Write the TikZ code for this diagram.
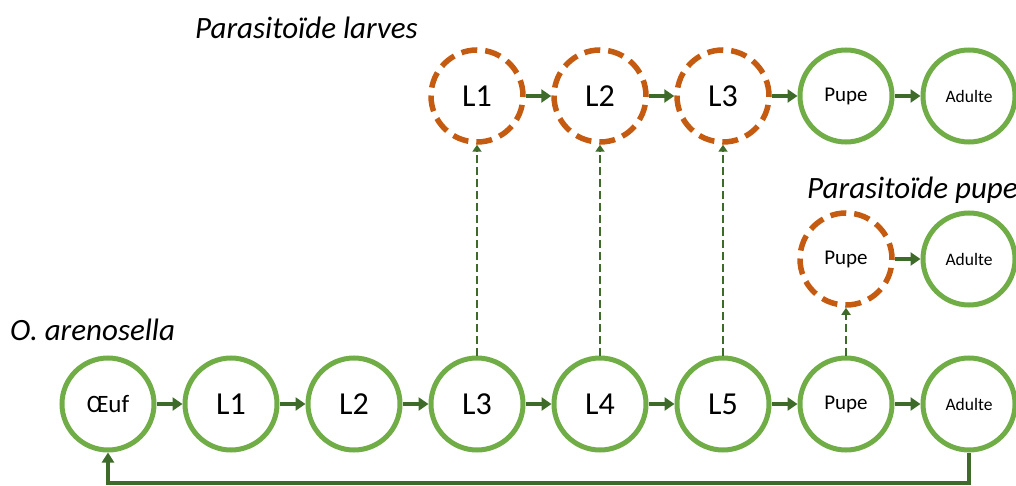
\documentclass[tikz,border=0pt]{standalone}
\usepackage{fontspec}
\setmainfont{Carlito}
\usetikzlibrary{arrows.meta}
\definecolor{stagegreen}{HTML}{70AD47}
\definecolor{paraorange}{HTML}{C55A11}
\definecolor{arrowgreen}{HTML}{3E6B2A}
\tikzset{
  stage/.style={circle, draw=stagegreen, line width=5pt, minimum size=92pt, inner sep=0pt, fill=white},
  parastage/.style={circle, draw=paraorange, line width=5.5pt, dash pattern=on 16pt off 8pt, minimum size=92pt, inner sep=0pt, fill=white},
  big/.style={font=\fontsize{32}{36}\selectfont},
  mid/.style={font=\fontsize{25}{28}\selectfont},
  pup/.style={font=\fontsize{21}{24}\selectfont},
  adu/.style={font=\fontsize{17.5}{20}\selectfont},
  flow/.style={draw=arrowgreen, line width=4pt, -{Triangle[length=10pt,width=13pt]}},
  para/.style={draw=arrowgreen, line width=2.5pt, dash pattern=on 8pt off 4pt, -{Triangle[length=7pt,width=9pt]}},
  title/.style={font=\fontsize{31}{36}\selectfont\itshape, anchor=west, inner sep=0pt}
}
\begin{document}
\begin{tikzpicture}[x=1pt,y=-1pt]
\useasboundingbox (0,0) rectangle (1016,486);
% bottom row
\node[stage,mid] (oeuf) at (108,404) {Œuf};
\node[stage,big] (b1) at (231,404) {L1};
\node[stage,big] (b2) at (354,404) {L2};
\node[stage,big] (b3) at (477,404) {L3};
\node[stage,big] (b4) at (600,404) {L4};
\node[stage,big] (b5) at (723,404) {L5};
\node[stage,pup] (bp) at (846,404) {Pupe};
\node[stage,adu] (ba) at (969,404) {Adulte};
% top row
\node[parastage,big] (t1) at (477,96) {L1};
\node[parastage,big] (t2) at (600,96) {L2};
\node[parastage,big] (t3) at (723,96) {L3};
\node[stage,pup] (tp) at (846,96) {Pupe};
\node[stage,adu] (ta) at (969,96) {Adulte};
% middle row
\node[parastage,pup] (mp) at (846,259) {Pupe};
\node[stage,adu] (ma) at (969,259) {Adulte};
% labels
\node[title] (lab1) at (195,28) {Parasitoïde larves};
\node[title] (lab2) at (807,190) {Parasitoïde pupe};
\node[title] (lab3) at (10,330) {O. arenosella};
% flow arrows
\draw[flow] (oeuf) -- (b1);
\draw[flow] (b1) -- (b2);
\draw[flow] (b2) -- (b3);
\draw[flow] (b3) -- (b4);
\draw[flow] (b4) -- (b5);
\draw[flow] (b5) -- (bp);
\draw[flow] (bp) -- (ba);
\draw[flow] (t1) -- (t2);
\draw[flow] (t2) -- (t3);
\draw[flow] (t3) -- (tp);
\draw[flow] (tp) -- (ta);
\draw[flow] (mp) -- (ma);
% parasitism
\draw[para] (b3) -- (t1);
\draw[para] (b4) -- (t2);
\draw[para] (b5) -- (t3);
\draw[para] (bp) -- (mp);
% return
\coordinate (r1) at (969,483);
\coordinate (r2) at (108,483);
\draw[flow, -{Triangle[length=10pt,width=12pt]}] (ba.south) -- (r1) -- (r2) -- (oeuf.south);
\end{tikzpicture}
\end{document}
